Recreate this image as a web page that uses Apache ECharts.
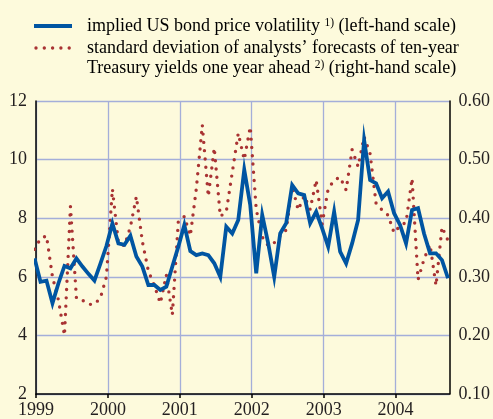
<!DOCTYPE html>
<html>
<head>
<meta charset="utf-8">
<script src="https://cdn.jsdelivr.net/npm/echarts@6/dist/echarts.min.js"></script>
<style>
html,body{margin:0;padding:0;background:#fdfadc;}
#chart{width:493px;height:419px;}
</style>
</head>
<body>
<div id="chart"></div>
<script>
// Monthly observations, first entry = December 1998, then Jan 1999 ... Sep 2004
const startYear = 1998;
const startMonth = 12;
// implied US bond price volatility (left-hand scale)
const impliedVol = [6.63,
  5.83, 5.87, 5.10, 5.78, 6.37, 6.29, 6.63, 6.35, 6.10, 5.87, 6.45, 7.05,
  7.82, 7.14, 7.09, 7.40, 6.69, 6.35, 5.72, 5.72, 5.55, 5.66, 6.35, 7.03,
  7.77, 6.88, 6.74, 6.80, 6.74, 6.46, 6.00, 7.71, 7.48, 7.94, 9.65, 8.45,
  6.12, 8.11, 7.14, 6.00, 7.48, 7.83, 9.13, 8.85, 8.79, 7.83, 8.22, 7.65,
  7.03, 8.22, 6.86, 6.46, 7.14, 7.94, 10.67, 9.30, 9.19, 8.68, 8.91, 8.17,
  7.77, 7.14, 8.28, 8.34, 7.48, 6.80, 6.80, 6.57, 5.95];
// standard deviation of analysts' forecasts (right-hand scale)
const forecastStd = [0.347,
  0.365, 0.370, 0.300, 0.260, 0.200, 0.420, 0.263, 0.260, 0.253, 0.253, 0.264, 0.300,
  0.450, 0.358, 0.353, 0.385, 0.437, 0.360, 0.310, 0.285, 0.255, 0.303, 0.235, 0.395,
  0.403, 0.370, 0.450, 0.559, 0.437, 0.520, 0.403, 0.411, 0.478, 0.545, 0.500, 0.556,
  0.415, 0.368, 0.353, 0.358, 0.370, 0.380, 0.455, 0.414, 0.438, 0.415, 0.465, 0.390,
  0.450, 0.465, 0.470, 0.448, 0.517, 0.488, 0.539, 0.510, 0.425, 0.414, 0.405, 0.375,
  0.387, 0.393, 0.468, 0.295, 0.330, 0.355, 0.285, 0.385, 0.362];
const yearTicks = [1999, 2000, 2001, 2002, 2003, 2004];
const leftTicks = [2, 4, 6, 8, 10, 12];
const rightTicks = [0.10, 0.20, 0.30, 0.40, 0.50, 0.60];
const legendNames = [
  'implied US bond price volatility',
  'standard deviation of analysts’ forecasts of ten-year',
  'Treasury yields one year ahead'
];

// observation time within month (late in month)
function monthPos(i) {
  const m = startMonth - 1 + i;
  return startYear + (m + 0.75) / 12;
}
const volData = impliedVol.map((v, i) => [monthPos(i), v]);
const stdData = forecastStd.map((v, i) => [monthPos(i), v]);

const FONT = 'Liberation Serif';
const FS = 18;
const TXT = '#231f20';
const GRID = '#a4aed9';
const BLUE = '#0055a2';
const RED = '#a93333';

const chart = echarts.init(document.getElementById('chart'), null, {renderer: 'canvas'});
const rich = {
  a: {fontFamily: FONT, fontSize: FS, color: TXT},
  s: {fontFamily: FONT, fontSize: 11.5, color: TXT, verticalAlign: 'top'}
};
chart.setOption({
  backgroundColor: '#fdfadc',
  animation: false,
  grid: {left: 36, right: 43, top: 101, bottom: 25},
  xAxis: {
    type: 'value', min: 1999, max: 2004.75, interval: 1,
    axisLine: {lineStyle: {color: '#000', width: 1.5}},
    axisTick: {show: true, length: 4, customValues: yearTicks, lineStyle: {color: '#000', width: 1.5}},
    axisLabel: {customValues: yearTicks, formatter: v => String(Math.round(v)), fontFamily: FONT, fontSize: FS, color: TXT, margin: 7},
    splitLine: {show: true, lineStyle: {color: GRID, width: 1.3}}
  },
  yAxis: [{
    type: 'value', min: leftTicks[0], max: leftTicks[leftTicks.length - 1], interval: 2, position: 'left',
    axisLine: {show: true, lineStyle: {color: '#000', width: 1.5}},
    axisTick: {show: false},
    axisLabel: {fontFamily: FONT, fontSize: FS, color: TXT, margin: 9},
    splitLine: {show: true, lineStyle: {color: GRID, width: 1.3}}
  }, {
    type: 'value', min: rightTicks[0], max: rightTicks[rightTicks.length - 1], interval: 0.1, position: 'right',
    axisLine: {show: true, lineStyle: {color: '#000', width: 1.5}},
    axisTick: {show: false},
    axisLabel: {fontFamily: FONT, fontSize: FS, color: TXT, margin: 9, formatter: v => v.toFixed(2)},
    splitLine: {show: false}
  }],
  graphic: [
    {type: 'line', shape: {x1: 34, y1: 26, x2: 72, y2: 26}, style: {stroke: BLUE, lineWidth: 4}},
    {type: 'line', shape: {x1: 36, y1: 48, x2: 70, y2: 48}, style: {stroke: RED, lineWidth: 3.4, lineDash: [0, 8.3], lineCap: 'round'}},
    {type: 'text', x: 87, y: 26, style: {text: '{a|' + legendNames[0] + ' }{s|1)}{a| (left-hand scale)}', rich: rich, verticalAlign: 'middle'}},
    {type: 'text', x: 87, y: 48, style: {text: '{a|' + legendNames[1] + '}', rich: rich, verticalAlign: 'middle'}},
    {type: 'text', x: 87, y: 68, style: {text: '{a|' + legendNames[2] + ' }{s|2)}{a| (right-hand scale)}', rich: rich, verticalAlign: 'middle'}}
  ],
  series: [{
    type: 'line', yAxisIndex: 1, data: stdData, symbol: 'none', clip: true,
    lineStyle: {color: RED, width: 3.4, type: [0, 8.3], cap: 'round', join: 'round'}
  }, {
    type: 'line', yAxisIndex: 0, data: volData, symbol: 'none', clip: true,
    lineStyle: {color: BLUE, width: 3.8, join: 'miter', miterLimit: 10}
  }]
});
</script>
</body>
</html>
